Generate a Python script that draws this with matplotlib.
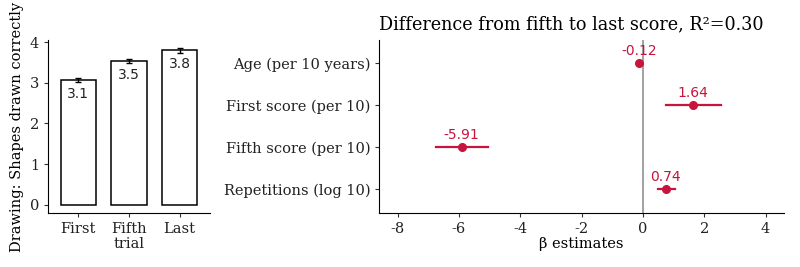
import matplotlib.pyplot as plt

# left panel data
trials = ['First', 'Fifth\ntrial', 'Last']
shapes_mean = [3.07, 3.53, 3.80]
shapes_se = [0.05, 0.05, 0.06]
bar_labels = ['3.1', '3.5', '3.8']

# right panel data
predictors = ['Age (per 10 years)', 'First score (per 10)', 'Fifth score (per 10)', 'Repetitions (log 10)']
beta = [-0.12, 1.64, -5.91, 0.74]
ci_low = [-0.16, 0.75, -6.74, 0.48]
ci_high = [-0.08, 2.54, -5.06, 1.04]
beta_labels = ['-0.12', '1.64', '-5.91', '0.74']

red = '#c8143c'
serif = 'DejaVu Serif'

fig = plt.figure(figsize=(8, 2.67), dpi=100)

# Bar chart
ax1 = fig.add_axes([0.06, 0.2022, 0.2025, 0.648])
xs = range(1, len(trials) + 1)
ax1.bar(xs, shapes_mean, width=0.7, color='white', edgecolor='black', linewidth=1.1)
ax1.errorbar(xs, shapes_mean, yerr=shapes_se, fmt='none', ecolor='black', elinewidth=1, capsize=2.5, capthick=1)
for x, v, lab in zip(xs, shapes_mean, bar_labels):
    ax1.annotate(lab, (x, v), xytext=(0, -5), textcoords='offset points',
                 ha='center', va='top', fontsize=10, color='#222222')
ax1.set_xlim(0.4, 3.6)
ax1.set_ylim(-0.2, 4.05)
ax1.set_xticks(list(xs))
ax1.set_xticklabels(trials, fontfamily=serif, fontsize=10.5, linespacing=1.1)
ax1.set_yticks([0, 1, 2, 3, 4])
ax1.set_yticklabels(['0', '1', '2', '3', '4'], fontfamily=serif, fontsize=10.5)
ax1.set_ylabel('Drawing: Shapes drawn correctly', fontfamily=serif, fontsize=10.5, labelpad=4)
ax1.spines[['top', 'right']].set_visible(False)
ax1.tick_params(length=3, color='#333333', labelcolor='#222222')

# Coefficient plot
ax2 = fig.add_axes([0.474, 0.2022, 0.506, 0.648])
ys = [4, 3, 2, 1]
ax2.axvline(0, color='#888888', linewidth=1.1, zorder=1)
for y, b, lo, hi, lab in zip(ys, beta, ci_low, ci_high, beta_labels):
    ax2.plot([lo, hi], [y, y], color=red, linewidth=1.6, zorder=2)
    ax2.plot(b, y, 'o', color=red, markersize=5.5, zorder=3)
    ax2.annotate(lab, (b, y), xytext=(0, 3.5), textcoords='offset points',
                 ha='center', va='bottom', fontsize=10, color=red)
ax2.set_xlim(-8.6, 4.6)
ax2.set_ylim(0.43, 4.55)
ax2.set_xticks([-8, -6, -4, -2, 0, 2, 4])
ax2.set_xticklabels(['-8', '-6', '-4', '-2', '0', '2', '4'], fontfamily=serif, fontsize=10.5)
ax2.set_yticks(ys)
ax2.set_yticklabels(predictors, fontfamily=serif, fontsize=10.5)
ax2.set_xlabel('β estimates', fontfamily=serif, fontsize=10.5, labelpad=1)
ax2.set_title('Difference from fifth to last score, R²=0.30', loc='left',
              fontfamily=serif, fontsize=12.7, pad=8)
ax2.spines[['top', 'right']].set_visible(False)
ax2.tick_params(length=3, color='#333333', labelcolor='#222222')

fig.savefig('out.png', dpi=100)
